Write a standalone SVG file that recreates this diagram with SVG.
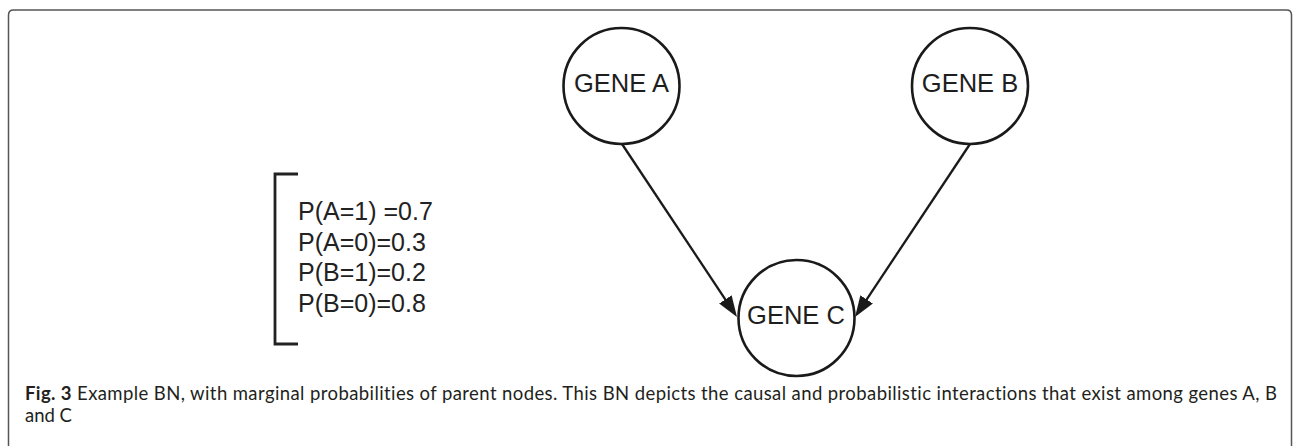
<svg xmlns="http://www.w3.org/2000/svg" width="1293" height="446" viewBox="0 0 1293 446">
<style>
.node circle{fill:#fff;stroke:#1a1a1a;stroke-width:2.6}
.node text{font-family:"Liberation Sans",Arial,sans-serif;font-size:25.5px;fill:#1e1e1e;text-anchor:middle}
.edge{stroke:#1a1a1a;stroke-width:2.3;fill:none}
.prob{font-family:"Liberation Sans",Arial,sans-serif;font-size:25px;fill:#222}
.cap{font-family:Lato,"Open Sans",sans-serif;font-size:18.5px;fill:#231f20;font-variant-ligatures:none}
</style>
<defs>
<marker id="arr" viewBox="0 0 21 15" refX="10" refY="7.5" markerWidth="21" markerHeight="15" markerUnits="userSpaceOnUse" orient="auto">
<path d="M0,0 L21,7.5 L0,15 z" fill="#1a1a1a"/>
</marker>
</defs>
<rect width="1293" height="446" fill="#fff"/>
<path d="M8.5,446 V15 Q8.5,10 13.5,10 H1286.5 Q1291.5,10 1291.5,15 V446" fill="none" stroke="#555" stroke-width="1.5"/>
<g id="connectors">
<line class="edge" x1="622" y1="144" x2="730.9" y2="307.8" marker-end="url(#arr)"/>
<line class="edge" x1="970" y1="144" x2="861.1" y2="307.8" marker-end="url(#arr)"/>
</g>
<g id="geneA" class="node">
<circle cx="621.5" cy="86" r="58"/>
<text x="621.5" y="92">GENE A</text>
</g>
<g id="geneB" class="node">
<circle cx="970" cy="86" r="58"/>
<text x="970" y="91.5">GENE B</text>
</g>
<g id="geneC" class="node">
<circle cx="796.5" cy="318" r="58"/>
<text x="796" y="323.5">GENE C</text>
</g>
<g id="marginals">
<path d="M298,174 H275 V344 H298" fill="none" stroke="#222" stroke-width="2.8"/>
<text class="prob" x="298" y="220">P(A=1) =0.7</text>
<text class="prob" x="298" y="250.5">P(A=0)=0.3</text>
<text class="prob" x="298" y="281">P(B=1)=0.2</text>
<text class="prob" x="298" y="311.5">P(B=0)=0.8</text>
</g>
<g id="caption">
<text class="cap" x="25" y="400" textLength="1252" lengthAdjust="spacing"><tspan font-weight="bold">Fig. 3</tspan> Example BN, with marginal probabilities of parent nodes. This BN depicts the causal and probabilistic interactions that exist among genes A, B</text>
<text class="cap" x="25" y="422">and C</text>
</g>
</svg>
